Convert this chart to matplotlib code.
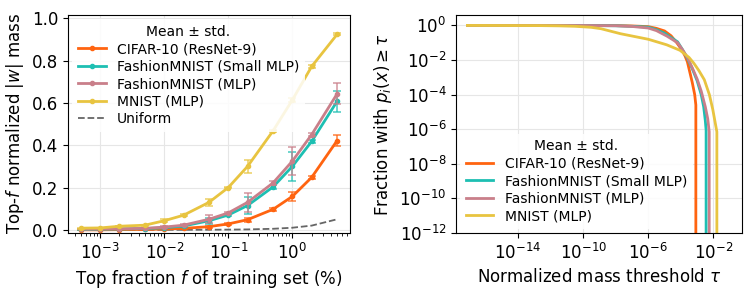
import numpy as np
import matplotlib
matplotlib.use("Agg")
import matplotlib.pyplot as plt

# ---------------- Left panel data ----------------
top_fraction = [5e-4, 1e-3, 2e-3, 5e-3, 1e-2, 2e-2, 5e-2, 0.1, 0.2, 0.5, 1, 2, 5]

cifar_mass = [0.000, 0.000, 0.001, 0.002, 0.004, 0.007, 0.015, 0.028, 0.048, 0.097, 0.158, 0.248, 0.422]
cifar_std = [0.001, 0.001, 0.001, 0.001, 0.002, 0.002, 0.004, 0.004, 0.010, 0.006, 0.020, 0.008, 0.025]

fsmall_mass = [0.002, 0.003, 0.004, 0.006, 0.010, 0.018, 0.043, 0.070, 0.115, 0.203, 0.300, 0.418, 0.608]
fsmall_std = [0.001, 0.001, 0.001, 0.002, 0.003, 0.004, 0.015, 0.006, 0.040, 0.008, 0.070, 0.008, 0.050]

fmlp_mass = [0.003, 0.004, 0.005, 0.007, 0.013, 0.022, 0.050, 0.080, 0.130, 0.222, 0.325, 0.450, 0.643]
fmlp_std = [0.001, 0.001, 0.001, 0.002, 0.003, 0.004, 0.020, 0.006, 0.045, 0.008, 0.065, 0.008, 0.050]

mnist_mass = [0.008, 0.009, 0.017, 0.022, 0.043, 0.069, 0.130, 0.200, 0.300, 0.468, 0.614, 0.772, 0.924]
mnist_std = [0.002, 0.002, 0.002, 0.003, 0.006, 0.004, 0.015, 0.004, 0.030, 0.006, 0.010, 0.006, 0.005]

uniform_mass = [5e-6, 1e-5, 2e-5, 5e-5, 1e-4, 2e-4, 5e-4, 1e-3, 2e-3, 5e-3, 0.01, 0.02, 0.05]

# ---------------- Right panel data (log10 values) ----------------
cifar_log_tau = [-17.1, -10, -8, -7, -6, -5.5, -5, -4.6, -4.25, -3.95, -3.75, -3.6, -3.45, -3.3, -3.15, -3.08, -3.08]
cifar_log_frac = [0, 0, -0.01, -0.03, -0.07, -0.17, -0.32, -0.6, -1.0, -1.4, -1.75, -2.1, -2.7, -3.3, -4.0, -4.6, -13]

fsmall_log_tau = [-17.1, -10, -8, -7, -6, -5.5, -5, -4.85, -4.2, -3.9, -3.6, -3.3, -3.0, -2.75, -2.6, -2.5, -2.45, -2.45]
fsmall_log_frac = [0, -0.005, -0.02, -0.05, -0.1, -0.25, -0.45, -0.55, -0.95, -1.4, -1.9, -2.5, -3.2, -4.0, -4.7, -5.5, -6.06, -13]

fmlp_log_tau = [-17.1, -10, -8, -7, -6, -5.5, -4.85, -4.2, -3.9, -3.6, -3.3, -3.0, -2.75, -2.5, -2.35, -2.26, -2.26]
fmlp_log_frac = [0, -0.005, -0.02, -0.06, -0.15, -0.3, -0.62, -1.0, -1.4, -1.85, -2.45, -3.1, -3.8, -4.7, -5.4, -6.15, -13]

mnist_log_tau = [-17.1, -12.7, -11.5, -10.5, -9.5, -8.9, -7.7, -6, -4.87, -4.05, -3.5, -3.2, -2.9, -2.56, -2.25, -2.04, -1.79, -1.79]
mnist_log_frac = [0, -0.01, -0.025, -0.05, -0.11, -0.19, -0.48, -0.8, -1.12, -1.44, -1.85, -2.19, -2.6, -3.14, -4.0, -4.86, -6.15, -13]

labels = ["CIFAR-10 (ResNet-9)", "FashionMNIST (Small MLP)", "FashionMNIST (MLP)", "MNIST (MLP)"]
colors = ["#FF6410", "#1DBFB2", "#C97F8A", "#E8C440"]

plt.rcParams['font.family'] = ['DejaVu Sans']

fig = plt.figure(figsize=(7.49, 2.92), dpi=100)
ax1 = fig.add_axes([0.0908, 0.202, 0.3765, 0.7466])
ax2 = fig.add_axes([0.6088, 0.202, 0.3818, 0.7466])

# Left
masses = [cifar_mass, fsmall_mass, fmlp_mass, mnist_mass]
stds = [cifar_std, fsmall_std, fmlp_std, mnist_std]
for m, s, c, lab in zip(masses, stds, colors, labels):
    ax1.plot(top_fraction, m, color=c, lw=2, marker='o', ms=3, label=lab, zorder=3)
    ax1.errorbar(top_fraction, m, yerr=s, fmt='none', ecolor=c, elinewidth=1.2,
                 capsize=3, capthick=1.2, alpha=0.75, zorder=3)
ax1.plot(top_fraction, uniform_mass, color='#555555', ls='--', lw=1.3, alpha=0.9,
         label='Uniform', zorder=2)
ax1.set_xscale('log')
ax1.set_ylim(-0.015, 1.015)
ax1.set_yticks([0.0, 0.2, 0.4, 0.6, 0.8, 1.0])
ax1.grid(True, color='#e6e6e6', lw=0.8)
ax1.set_axisbelow(True)
ax1.set_xlabel('Top fraction $f$ of training set (%)', fontsize=12)
ax1.set_ylabel('Top-$f$ normalized $|w|$ mass', fontsize=12)
ax1.tick_params(labelsize=12)
ax1.legend(title='Mean ± std.', loc='upper left', fontsize=10, title_fontsize=10,
           framealpha=0.85, edgecolor='none', handlelength=2.0,
           borderaxespad=0.3, labelspacing=0.25)

# Right
taus = [cifar_log_tau, fsmall_log_tau, fmlp_log_tau, mnist_log_tau]
fracs = [cifar_log_frac, fsmall_log_frac, fmlp_log_frac, mnist_log_frac]
for t, f, c, lab in zip(taus, fracs, colors, labels):
    ax2.plot(10.0 ** np.array(t), 10.0 ** np.array(f), color=c, lw=2, label=lab)
ax2.set_xscale('log')
ax2.set_yscale('log')
ax2.set_xlim(10 ** -17.8, 10 ** -0.25)
ax2.set_ylim(1e-12, 4)
ax2.set_xticks([1e-14, 1e-10, 1e-6, 1e-2])
ax2.set_yticks([1e0, 1e-2, 1e-4, 1e-6, 1e-8, 1e-10, 1e-12])
ax2.minorticks_off()
ax2.grid(True, color='#e6e6e6', lw=0.8)
ax2.set_axisbelow(True)
ax2.set_xlabel(r'Normalized mass threshold $\tau$', fontsize=12)
ax2.set_ylabel(r'Fraction with $p_i(x) \geq \tau$', fontsize=12)
ax2.tick_params(labelsize=12)
ax2.legend(title='Mean ± std.', loc='lower left', fontsize=10, title_fontsize=10,
           framealpha=0.85, edgecolor='none', handlelength=2.0,
           borderaxespad=0.3, labelspacing=0.25)

fig.savefig('out.png', dpi=100)
